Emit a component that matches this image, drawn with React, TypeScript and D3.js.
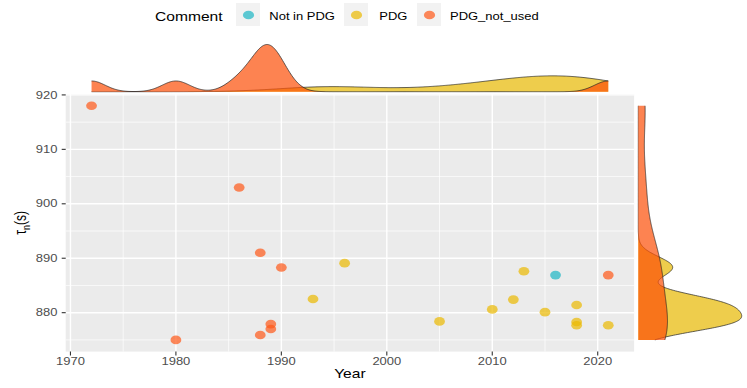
import * as d3 from 'd3';

// measured data
const groups = ['Not in PDG', 'PDG', 'PDG_not_used'];
const notInPdgYear = [2016];
const notInPdgTau = [886.9];
const pdgYear = [1993, 1996, 2005, 2010, 2012, 2013, 2015, 2018, 2018, 2018, 2021];
const pdgTau = [882.5, 889.1, 878.4, 880.6, 882.4, 887.6, 880.1, 881.4, 878.3, 877.7, 877.7];
const notUsedYear = [1972, 1980, 1986, 1988, 1988, 1989, 1989, 1990, 2021];
const notUsedTau = [918.0, 875.0, 903.0, 891.0, 875.9, 877.9, 877.0, 888.3, 886.9];
const xTicks = [1970, 1980, 1990, 2000, 2010, 2020];
const yTicks = [880, 890, 900, 910, 920];

const pointColors = ['#1CB6C4', '#EBB900', '#FF5818'];
const densColors = ['#00AFBB', '#E7B800', '#FC4E07'];

const years = [notInPdgYear, pdgYear, notUsedYear];
const taus = [notInPdgTau, pdgTau, notUsedTau];

// image looks stretched horizontally
const SX = 1.3;
const font = '"Liberation Sans", Arial, Helvetica, sans-serif';

const panel = { left: 65.7, right: 634.1, top: 94.1, bottom: 351.6 };

function expand(vals: number[]) {
  const [lo, hi] = d3.extent(vals) as [number, number];
  const pad = (hi - lo) * 0.05;
  return [lo - pad, hi + pad];
}

// gaussian kde with R's bw.nrd0
function kde(values: number[], lo: number, hi: number, n = 512) {
  const sorted = values.slice().sort(d3.ascending);
  const sd = d3.deviation(values) as number;
  const iqr = (d3.quantileSorted(sorted, 0.75) as number) - (d3.quantileSorted(sorted, 0.25) as number);
  const h = 0.9 * Math.min(sd, iqr / 1.34) * Math.pow(values.length, -0.2);
  return d3.range(n).map(i => {
    const x = lo + ((hi - lo) * i) / (n - 1);
    const y = d3.sum(values, v => Math.exp(-0.5 * ((x - v) / h) ** 2)) / (values.length * h * Math.sqrt(2 * Math.PI));
    return [x, y] as [number, number];
  });
}

function Txt({ x, y, size, anchor = 'start', fill = '#4D4D4D', rotate = 0, children }: any) {
  return (
    <text
      transform={`translate(${x},${y}) scale(${SX},1)${rotate ? ` rotate(${rotate})` : ''}`}
      fontSize={size}
      fontFamily={font}
      textAnchor={anchor}
      fill={fill}
    >
      {children}
    </text>
  );
}

export default function App() {
  const allYear = years.flat();
  const allTau = taus.flat();
  const x = d3.scaleLinear().domain(expand(allYear)).range([panel.left, panel.right]);
  const y = d3.scaleLinear().domain(expand(allTau)).range([panel.bottom, panel.top]);

  const [xMin, xMax] = d3.extent(allYear) as [number, number];
  const [yMin, yMax] = d3.extent(allTau) as [number, number];

  // only groups with >1 point get a density
  const dens = [1, 2].map(g => ({
    g,
    top: kde(years[g], xMin, xMax),
    right: kde(taus[g], yMin, yMax),
  }));
  const topMax = d3.max(dens, d => d3.max(d.top, p => p[1])) as number;
  const rightMax = d3.max(dens, d => d3.max(d.right, p => p[1])) as number;
  const topBase = 91.7;
  const rightBase = 638.3;
  const ty = d3.scaleLinear().domain([0, topMax]).range([topBase, 44.5]);
  const rx = d3.scaleLinear().domain([0, rightMax]).range([rightBase, 741.7]);

  const topArea = d3.area<[number, number]>().x(d => x(d[0])).y0(topBase).y1(d => ty(d[1])).curve(d3.curveLinear);
  const topLine = d3.line<[number, number]>().x(d => x(d[0])).y(d => ty(d[1]));
  const rightArea = d3.area<[number, number]>().y(d => y(d[0])).x0(rightBase).x1(d => rx(d[1]));
  const rightLine = d3.line<[number, number]>().y(d => y(d[0])).x(d => rx(d[1]));

  const xMinor = d3.range(1965, 2030, 10).filter(v => x(v) > panel.left && x(v) < panel.right);
  const yMinor = d3.range(875, 925, 10).filter(v => y(v) > panel.top && y(v) < panel.bottom);

  const legend = [
    { box: 236, label: 269.3 },
    { box: 344, label: 379.3 },
    { box: 417, label: 450 },
  ];

  return (
    <svg width={747} height={388} style={{ position: 'absolute', left: 0, top: 0, background: '#fff' }}>
      {/* legend */}
      <Txt x={155} y={20.5} size={12} fill="#000">Comment</Txt>
      {groups.map((g, i) => (
        <g key={g}>
          <rect x={legend[i].box} y={3} width={24} height={23} fill="#F2F2F2" />
          <ellipse cx={legend[i].box + 12.5} cy={15} rx={5.6} ry={4.3} fill={pointColors[i]} fillOpacity={0.7} />
          <Txt x={legend[i].label} y={19.5} size={10} fill="#000">{g}</Txt>
        </g>
      ))}

      {/* panel */}
      <rect x={panel.left} y={panel.top} width={panel.right - panel.left} height={panel.bottom - panel.top} fill="#EBEBEB" />
      {xMinor.map(v => (
        <line key={'xm' + v} x1={x(v)} x2={x(v)} y1={panel.top} y2={panel.bottom} stroke="#fff" strokeWidth={0.7} />
      ))}
      {yMinor.map(v => (
        <line key={'ym' + v} y1={y(v)} y2={y(v)} x1={panel.left} x2={panel.right} stroke="#fff" strokeWidth={0.7} />
      ))}
      {xTicks.map(v => (
        <line key={'xg' + v} x1={x(v)} x2={x(v)} y1={panel.top} y2={panel.bottom} stroke="#fff" strokeWidth={1.4} />
      ))}
      {yTicks.map(v => (
        <line key={'yg' + v} y1={y(v)} y2={y(v)} x1={panel.left} x2={panel.right} stroke="#fff" strokeWidth={1.4} />
      ))}

      {/* points */}
      {[1, 2, 0].map(g =>
        years[g].map((yr, i) => (
          <ellipse key={g + '-' + i} cx={x(yr)} cy={y(taus[g][i])} rx={5.4} ry={4.3} fill={pointColors[g]} fillOpacity={0.7} />
        ))
      )}

      {/* axes */}
      {yTicks.map(v => (
        <g key={'yt' + v}>
          <line x1={panel.left - 4} x2={panel.left} y1={y(v)} y2={y(v)} stroke="#333" strokeWidth={1.1} />
          <Txt x={57.5} y={y(v) + 3.6} size={10} anchor="end">{v}</Txt>
        </g>
      ))}
      {xTicks.map(v => (
        <g key={'xt' + v}>
          <line x1={x(v)} x2={x(v)} y1={panel.bottom} y2={panel.bottom + 4} stroke="#333" strokeWidth={1.1} />
          <Txt x={x(v)} y={365} size={10} anchor="middle">{v}</Txt>
        </g>
      ))}
      <Txt x={(panel.left + panel.right) / 2} y={378} size={12} anchor="middle" fill="#000">Year</Txt>
      <Txt x={26} y={(panel.top + panel.bottom) / 2} size={12} anchor="middle" fill="#000" rotate={-90}>
        τ<tspan fontSize={9} dy={3}>n</tspan><tspan dy={-3}>(s)</tspan>
      </Txt>

      {/* top marginal */}
      {dens.map(d => (
        <g key={'top' + d.g}>
          <path d={topArea(d.top) as string} fill={densColors[d.g]} fillOpacity={0.7} />
          <path d={topLine(d.top) as string} fill="none" stroke="#222" strokeWidth={0.7} />
        </g>
      ))}

      {/* right marginal */}
      {dens.map(d => (
        <g key={'right' + d.g}>
          <path d={rightArea(d.right) as string} fill={densColors[d.g]} fillOpacity={0.7} />
          <path d={rightLine(d.right) as string} fill="none" stroke="#222" strokeWidth={0.7} />
        </g>
      ))}
    </svg>
  );
}
